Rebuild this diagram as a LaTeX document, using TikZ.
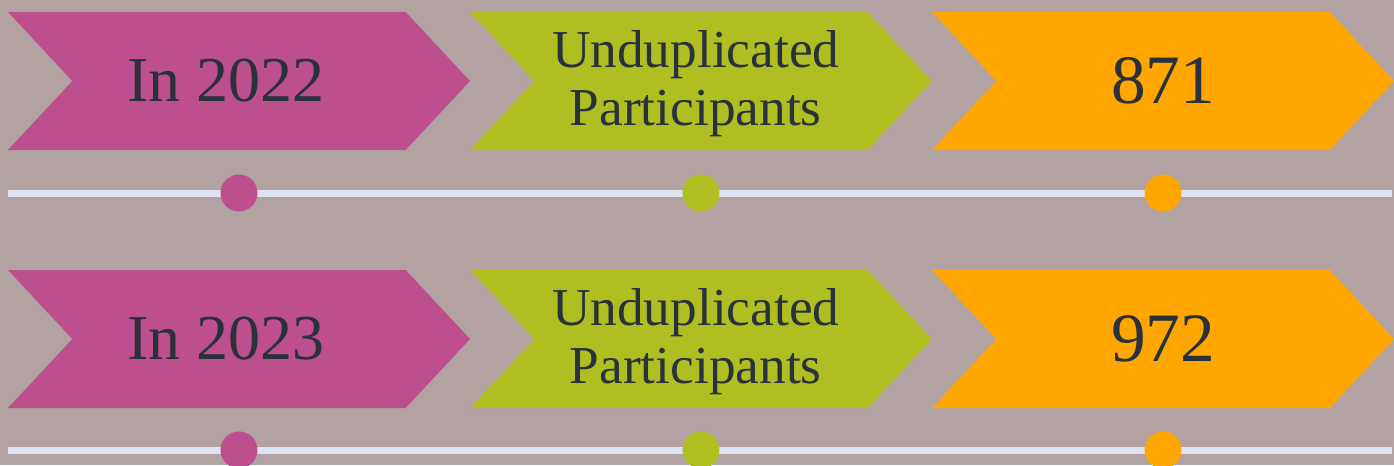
\documentclass[tikz,border=0pt]{standalone}
\usepackage{fontspec}
\setmainfont{Liberation Serif}
\usetikzlibrary{shapes.symbols}

\definecolor{bgc}{HTML}{B2A2A2}
\definecolor{pinkc}{HTML}{BD4F8F}
\definecolor{limec}{HTML}{AFBF22}
\definecolor{orangec}{HTML}{FFA600}
\definecolor{railc}{HTML}{DFE3F1}
\definecolor{inkc}{HTML}{29313A}

\begin{document}
\begin{tikzpicture}[x=0.75pt,y=-0.75pt,node distance=346.5pt]
		\tikzstyle{chev}=[signal, signal to=east, signal from=west, signal pointer angle=94,
			minimum width=346.5pt, minimum height=103.5pt, inner sep=0pt, draw=none]
		\tikzstyle{big}=[text=inkc, font=\fontsize{48}{52}\selectfont]
		\tikzstyle{two}=[text=inkc, align=center, font=\fontsize{40}{44}\selectfont]
		\tikzstyle{num}=[text=inkc, font=\fontsize{52}{56}\selectfont]
		\tikzstyle{rail}=[draw=railc, line width=5.25pt]
		\tikzstyle{dot}=[circle, inner sep=0pt, minimum size=27.75pt]

		\fill[bgc] (0,0) rectangle (1394,465);
		\clip (0,0) rectangle (1394,465);

		% 2022
		\node[chev, fill=pinkc] (A) at (239,81) {};
		\node[chev, fill=limec] (B) [right of=A] {};
		\node[chev, fill=orangec] (C) [right of=B] {};
		\node[big] (tA) at ([xshift=-10pt]A.center) {In 2022};
		\node[two] (tB) at ([xshift=-4pt,yshift=-2pt]B.center) {Unduplicated\\Participants};
		\node[num] (tC) at (C.center) {871};

		\coordinate (l1) at (8,193);
		\coordinate (r1) at (1392,193);
		\draw[rail] (l1) -- (r1);
		\node[dot, fill=pinkc] (dA) at (A |- l1) {};
		\node[dot, fill=limec] (dB) at (B |- l1) {};
		\node[dot, fill=orangec] (dC) at (C |- l1) {};

		% 2023
		\node[chev, fill=pinkc] (D) at (239,339) {};
		\node[chev, fill=limec] (E) [right of=D] {};
		\node[chev, fill=orangec] (F) [right of=E] {};
		\node[big] (tD) at ([xshift=-10pt]D.center) {In 2023};
		\node[two] (tE) at ([xshift=-4pt,yshift=-2pt]E.center) {Unduplicated\\Participants};
		\node[num] (tF) at (F.center) {972};

		\coordinate (l2) at (8,450);
		\coordinate (r2) at (1392,450);
		\draw[rail] (l2) -- (r2);
		\node[dot, fill=pinkc] (dD) at (D |- l2) {};
		\node[dot, fill=limec] (dE) at (E |- l2) {};
		\node[dot, fill=orangec] (dF) at (F |- l2) {};

	\end{tikzpicture}
\end{document}
